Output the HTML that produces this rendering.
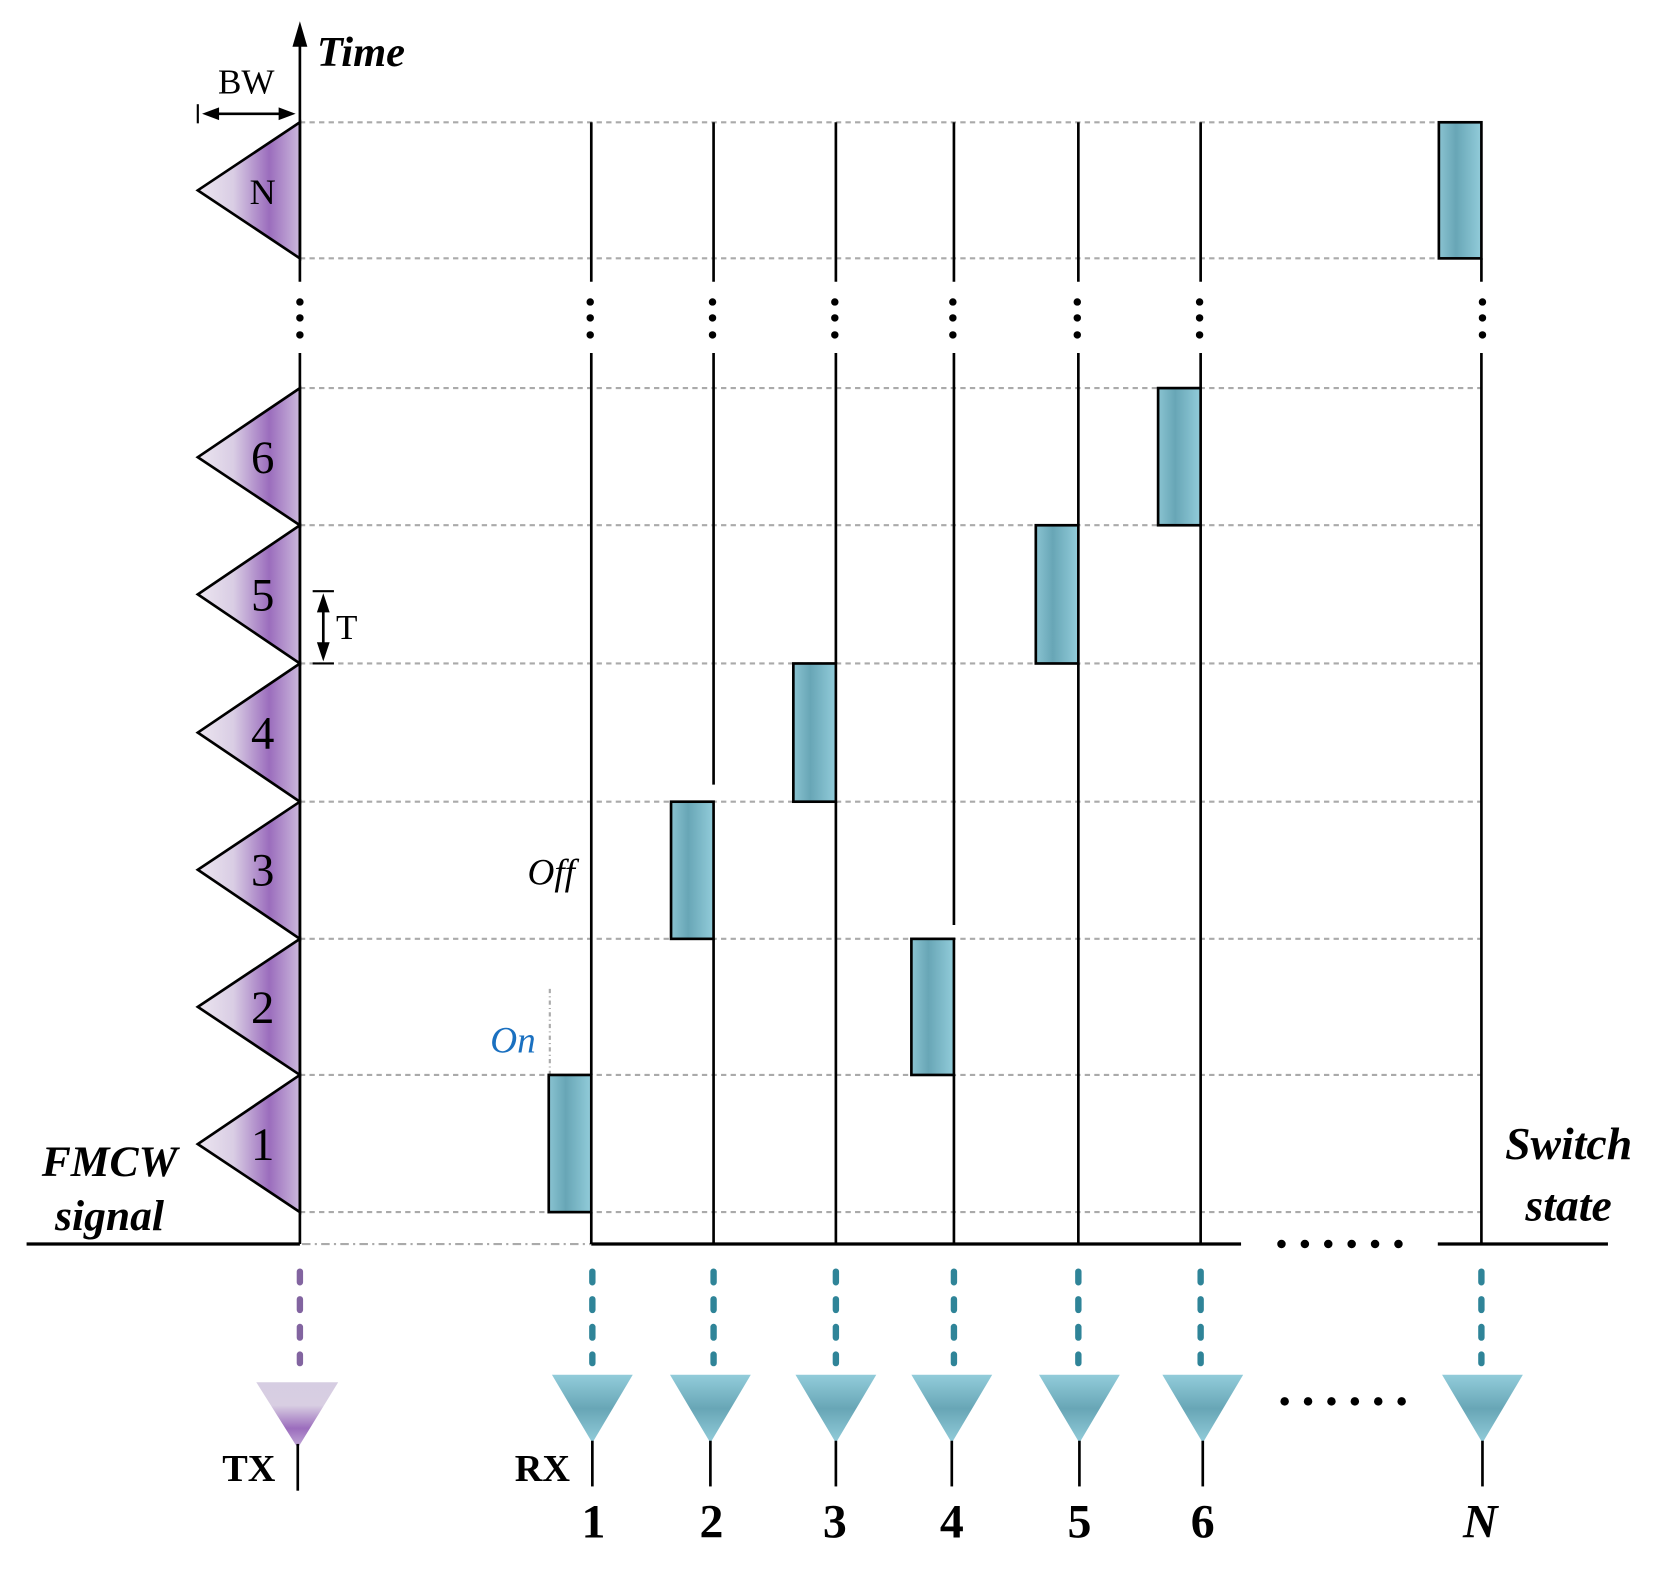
<!DOCTYPE html>
<html><head><meta charset="utf-8"><style>html,body{margin:0;padding:0;background:#fff}svg{display:block}</style></head>
<body>
<svg width="1659" height="1580" viewBox="0 0 1560 1486" preserveAspectRatio="none" xmlns="http://www.w3.org/2000/svg" font-family="Liberation Serif, serif">
<defs>
<linearGradient id="tri" x1="0" y1="0" x2="1" y2="0">
<stop offset="0" stop-color="#ece6f0"/><stop offset="0.35" stop-color="#d9cde4"/><stop offset="0.7" stop-color="#9b6dbd"/><stop offset="1" stop-color="#cbb8dc"/></linearGradient>
<linearGradient id="rect" x1="0" y1="0" x2="1" y2="0">
<stop offset="0" stop-color="#8ac3d1"/><stop offset="0.4" stop-color="#68a6b6"/><stop offset="1" stop-color="#92ccda"/></linearGradient>
<linearGradient id="ant" x1="0" y1="0" x2="0" y2="1">
<stop offset="0" stop-color="#92ccda"/><stop offset="0.5" stop-color="#68a6b6"/><stop offset="1" stop-color="#92ccda"/></linearGradient>
<linearGradient id="tant" x1="0" y1="0" x2="0" y2="1">
<stop offset="0" stop-color="#d6cde2"/><stop offset="0.35" stop-color="#d8cee2"/><stop offset="0.7" stop-color="#9b6dbd"/><stop offset="1" stop-color="#c4acd8"/></linearGradient>
<g id="d3"><circle cx="0" cy="284" r="3.5"/><circle cx="0" cy="299" r="3.5"/><circle cx="0" cy="315" r="3.5"/></g>
</defs>

<g stroke="#aaa" stroke-width="2" stroke-dasharray="5 4">
<line x1="282" y1="115" x2="1352" y2="115"/><line x1="282" y1="243" x2="1352" y2="243"/>
<line x1="282" y1="365" x2="1393" y2="365"/><line x1="282" y1="494" x2="1393" y2="494"/>
<line x1="282" y1="624" x2="1393" y2="624"/><line x1="282" y1="754" x2="1393" y2="754"/>
<line x1="282" y1="883" x2="1393" y2="883"/><line x1="282" y1="1011" x2="1393" y2="1011"/>
<line x1="282" y1="1140" x2="1393" y2="1140"/>
</g>
<line x1="517" y1="930" x2="517" y2="1011" stroke="#aaa" stroke-width="2" stroke-dasharray="4 3 1 3"/>
<line x1="284" y1="1170" x2="556" y2="1170" stroke="#aaa" stroke-width="2" stroke-dasharray="8 4 2 4"/>

<g stroke="#000" stroke-width="2.5" fill="url(#tri)">
<polygon points="282,115 186,179 282,243"/>
<polygon points="282,365 186,430 282,494"/>
<polygon points="282,494 186,559 282,624"/>
<polygon points="282,624 186,689 282,754"/>
<polygon points="282,754 186,818 282,883"/>
<polygon points="282,883 186,947 282,1011"/>
<polygon points="282,1011 186,1076 282,1140"/>
</g>
<g font-size="44" text-anchor="middle">
<text x="247" y="192" font-size="34">N</text>
<text x="247" y="445">6</text><text x="247" y="574">5</text><text x="247" y="704">4</text>
<text x="247" y="833">3</text><text x="247" y="962">2</text><text x="247" y="1091">1</text>
</g>

<line x1="282" y1="40" x2="282" y2="265" stroke="#000" stroke-width="2.5"/>
<line x1="282" y1="332" x2="282" y2="1170" stroke="#000" stroke-width="2.5"/>
<polygon points="282,20 275,44 289,44" fill="#000"/>
<text x="298" y="62" font-size="40" font-weight="bold" font-style="italic">Time</text>
<text x="205" y="88" font-size="33">BW</text>
<line x1="186" y1="98" x2="186" y2="116" stroke="#000" stroke-width="2"/>
<line x1="196" y1="107" x2="268" y2="107" stroke="#000" stroke-width="2.5"/>
<polygon points="190,107 206,101 206,113" fill="#000"/><polygon points="278,107 262,101 262,113" fill="#000"/>
<line x1="294" y1="556" x2="314" y2="556" stroke="#000" stroke-width="2"/>
<line x1="294" y1="624" x2="314" y2="624" stroke="#000" stroke-width="2"/>
<line x1="304" y1="568" x2="304" y2="612" stroke="#000" stroke-width="2.5"/>
<polygon points="304,558 298,576 310,576" fill="#000"/><polygon points="304,622 298,604 310,604" fill="#000"/>
<text x="316" y="601" font-size="33">T</text>

<g fill="#000">
<use href="#d3" x="282"/>
</g>

<g fill="url(#rect)" stroke="#000" stroke-width="2.5">
<rect x="516" y="1011" width="40" height="129"/>
<rect x="631" y="754" width="40" height="129"/>
<rect x="746" y="624" width="40" height="130"/>
<rect x="857" y="883" width="40" height="128"/>
<rect x="974" y="494" width="40" height="130"/>
<rect x="1089" y="365" width="40" height="129"/>
<rect x="1353" y="115" width="40" height="128"/>
</g>
<g stroke="#000" stroke-width="2.5" fill="none">
<path d="M556 115V265M556 332V1011M556 1140V1170"/>
<path d="M671 115V265M671 332V738M671 883V1170"/>
<path d="M786 115V265M786 332V624M786 754V1170"/>
<path d="M897 115V265M897 332V870M897 1011V1170"/>
<path d="M1014 115V265M1014 332V494M1014 624V1170"/>
<path d="M1129 115V265M1129 332V365M1129 494V1170"/>
<path d="M1393 243V265M1393 332V1170"/>
<path d="M25 1170H282M556 1170H1167M1352 1170H1512" stroke-width="3"/>
</g>
<g fill="#000">
<use href="#d3" x="555"/><use href="#d3" x="670"/><use href="#d3" x="785"/><use href="#d3" x="896"/><use href="#d3" x="1013"/><use href="#d3" x="1128"/><use href="#d3" x="1394"/>
<circle cx="1205" cy="1170" r="4"/><circle cx="1227" cy="1170" r="4"/><circle cx="1249" cy="1170" r="4"/><circle cx="1271" cy="1170" r="4"/><circle cx="1293" cy="1170" r="4"/><circle cx="1315" cy="1170" r="4"/>
<circle cx="1208" cy="1318" r="4"/><circle cx="1230" cy="1318" r="4"/><circle cx="1252" cy="1318" r="4"/><circle cx="1274" cy="1318" r="4"/><circle cx="1296" cy="1318" r="4"/><circle cx="1318" cy="1318" r="4"/>
</g>

<text x="461" y="990" font-size="35" font-style="italic" fill="#1a70c0">On</text>
<text x="496" y="832" font-size="35" font-style="italic">Off</text>
<text x="103" y="1106" font-size="41" font-weight="bold" font-style="italic" text-anchor="middle">FMCW</text>
<text x="103" y="1157" font-size="41" font-weight="bold" font-style="italic" text-anchor="middle">signal</text>
<text x="1475" y="1090" font-size="43" font-weight="bold" font-style="italic" text-anchor="middle">Switch</text>
<text x="1475" y="1148" font-size="43" font-weight="bold" font-style="italic" text-anchor="middle">state</text>

<g stroke-width="6" stroke-linecap="round" stroke-dasharray="10 16" fill="none">
<line x1="282" y1="1196" x2="282" y2="1282" stroke="#8264a0"/>
<g stroke="#2f8498">
<line x1="557" y1="1196" x2="557" y2="1282"/><line x1="671" y1="1196" x2="671" y2="1282"/>
<line x1="786" y1="1196" x2="786" y2="1282"/><line x1="897" y1="1196" x2="897" y2="1282"/>
<line x1="1014" y1="1196" x2="1014" y2="1282"/><line x1="1129" y1="1196" x2="1129" y2="1282"/>
<line x1="1393" y1="1196" x2="1393" y2="1282"/>
</g></g>

<polygon points="241,1300 318,1300 280,1362" fill="url(#tant)"/>
<g fill="url(#ant)">
<polygon points="519,1293 595,1293 557,1357"/><polygon points="630,1293 706,1293 668,1357"/>
<polygon points="748,1293 824,1293 786,1357"/><polygon points="857,1293 933,1293 895,1357"/>
<polygon points="977,1293 1053,1293 1015,1357"/><polygon points="1093,1293 1169,1293 1131,1357"/>
<polygon points="1356,1293 1432,1293 1394,1357"/>
</g>
<g stroke="#000" stroke-width="2.5">
<line x1="280" y1="1358" x2="280" y2="1402"/>
<line x1="557" y1="1355" x2="557" y2="1398"/><line x1="668" y1="1355" x2="668" y2="1398"/>
<line x1="786" y1="1355" x2="786" y2="1398"/><line x1="895" y1="1355" x2="895" y2="1398"/>
<line x1="1015" y1="1355" x2="1015" y2="1398"/><line x1="1131" y1="1355" x2="1131" y2="1398"/>
<line x1="1394" y1="1355" x2="1394" y2="1398"/>
</g>
<text x="209" y="1393" font-size="36" font-weight="bold">TX</text>
<text x="484" y="1393" font-size="36" font-weight="bold">RX</text>
<g font-size="45" font-weight="bold" text-anchor="middle">
<text x="558" y="1446">1</text><text x="669" y="1446">2</text><text x="785" y="1446">3</text>
<text x="895" y="1446">4</text><text x="1015" y="1446">5</text><text x="1131" y="1446">6</text>
<text x="1392" y="1446" font-style="italic">N</text>
</g>
</svg>
</body></html>
